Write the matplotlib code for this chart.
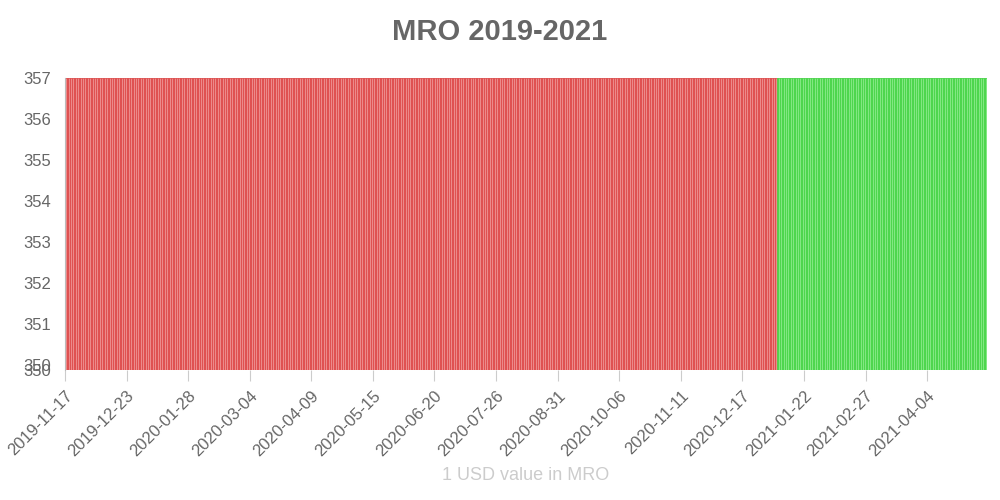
import matplotlib
matplotlib.use("Agg")
import matplotlib.pyplot as plt
import pandas as pd

plt.rcParams["font.family"] = ["Liberation Sans", "DejaVu Sans"]

# data: daily MRO per USD, flat at 357
start_date = "2019-11-17"
end_date = "2021-05-08"
split_date = "2021-01-06"  # first "green" day
dates = pd.date_range(start_date, end_date, freq="D")
values = [357.0] * len(dates)
tick_labels = ["2019-11-17", "2019-12-23", "2020-01-28", "2020-03-04", "2020-04-09",
               "2020-05-15", "2020-06-20", "2020-07-26", "2020-08-31", "2020-10-06",
               "2020-11-11", "2020-12-17", "2021-01-22", "2021-02-27", "2021-04-04"]
y_ticks = [350, 351, 352, 353, 354, 355, 356, 357]
y_min = 349.88

fig = plt.figure(figsize=(10, 5), dpi=100)
ax = fig.add_axes([0.065, 0.26, 0.922, 0.584])

x = list(range(len(dates)))
split = pd.Timestamp(split_date)
face = ["#ec8a8a" if d < split else "#82e882" for d in dates]
edge = ["#dc4040" if d < split else "#3ed23e" for d in dates]
ax.bar(x, [v - y_min for v in values], bottom=y_min, width=1.0, align="edge",
       color=face, edgecolor=edge, linewidth=0.5)

ax.set_xlim(0, len(dates))
ax.set_ylim(y_min, 357)
ax.set_yticks(y_ticks + [y_min])
ax.set_yticklabels([str(t) for t in y_ticks] + ["350"])
pos = [(pd.Timestamp(t) - dates[0]).days for t in tick_labels]
ax.set_xticks(pos)
ax.set_xticklabels(tick_labels, rotation=45, ha="right", rotation_mode="anchor")
ax.tick_params(colors="#666666", labelsize=12, length=8, width=0.8)
ax.tick_params(axis="x", color="#cccccc", pad=5)
ax.tick_params(axis="y", length=0, pad=10)
ax.grid(axis="y", color="#e8e8e8", linewidth=1)
ax.set_axisbelow(True)
for s in ax.spines.values():
    s.set_visible(False)
ax.spines["left"].set_visible(True)
ax.spines["left"].set_color("#bbbbbb")

fig.suptitle("MRO 2019-2021", y=0.965, fontsize=21, fontweight="bold", color="#666666")
ax.set_xlabel("1 USD value in MRO", color="#cccccc", fontsize=13, labelpad=6)

fig.savefig("out.png", dpi=100)
